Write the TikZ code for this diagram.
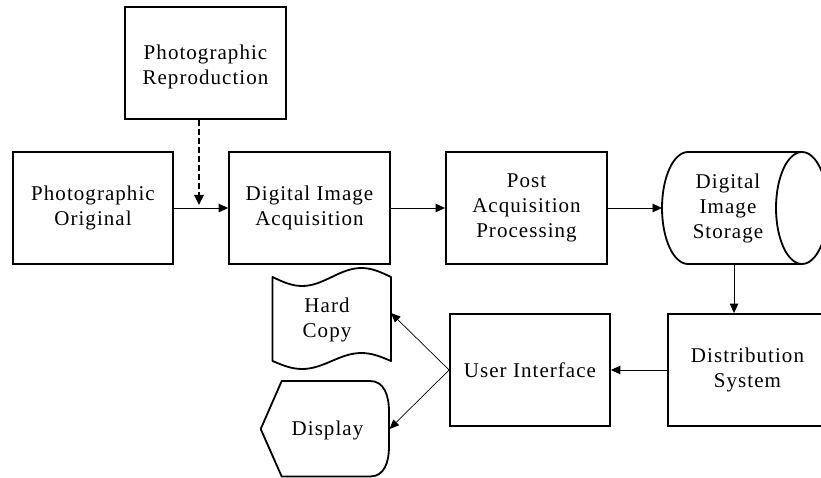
\documentclass[tikz,border=0pt]{standalone}
\usepackage{fontspec}
\setmainfont{Liberation Serif}[LetterSpace=5]
\usetikzlibrary{arrows.meta}
\begin{document}
\begin{tikzpicture}[x=1pt,y=-1pt,
  box/.style={draw, line width=1.8pt, minimum width=161pt, minimum height=112pt,
    align=center, inner sep=0pt, font=\fontsize{21}{25}\selectfont},
  lbl/.style={align=center, inner sep=0pt, font=\fontsize{21}{25}\selectfont},
  arr/.style={-{Triangle[length=9.5pt,width=8.5pt]}, line width=0.9pt},
  thinarr/.style={-{Triangle[length=9.5pt,width=8pt]}, line width=0.7pt},
  dasharr/.style={-{Triangle[length=10pt,width=9.5pt]}, line width=1.7pt, dash pattern=on 6pt off 3pt},
  outline/.style={line width=1.8pt, line join=round}]
\path[fill=white, use as bounding box] (0,0) rectangle (821,478);

% boxes
\node[box] (repro) at (205.5,63) {};
\node[lbl] (reprotxt) at (205.5,67) {Photographic\\Reproduction};
\node[box, minimum width=160pt] (orig) at (93,208) {Photographic\\Original};
\node[box] (acq) at (309.5,208) {Digital Image\\Acquisition};
\node[box] (post) at (526.5,208) {Post\\Acquisition\\Processing};
\node[box, minimum width=160pt] (ui) at (530,370) {User Interface};
\node[box, minimum width=159pt] (dist) at (747.5,370) {Distribution\\System};

% storage (cylinder)
\draw[outline] (688,152) -- (802,152) (802,264) -- (688,264)
  arc[start angle=270, end angle=90, x radius=26pt, y radius=56pt];
\draw[outline] (802,208) ellipse[x radius=26pt, y radius=56pt];
\node[lbl] (st) at (728,208) {Digital\\Image\\Storage};
\coordinate (stW) at (662,208);
\coordinate (stS) at (734,264);

% hard copy (punched tape)
\draw[outline] (272.5,277) sin (302.1,286) cos (331.75,277) sin (361.4,268) cos (391,277)
  -- (391,361) sin (361.4,353) cos (331.75,361) sin (302.1,369) cos (272.5,361) -- cycle;
\node[lbl] (hc) at (327,320) {Hard\\Copy};
\coordinate (hcE) at (391,313);

% display
\draw[outline] (281.7,381) -- (370,381) .. controls (384,381) and (389,395) .. (389,412)
  -- (389,446) .. controls (389,463) and (384,476.5) .. (370,476.5)
  -- (281.7,476.5) -- (260.7,429) -- cycle;
\node[lbl] (dp) at (327.5,430) {Display};
\coordinate (dpE) at (389.5,429);

% connectors
\coordinate (dashEnd) at (199,205);
\draw[dasharr] (repro.south -| dashEnd) -- (dashEnd);
\draw[arr] (orig) -- (acq);
\draw[arr] (acq) -- (post);
\draw[arr] (post) -- (stW);
\draw[arr] (stS) -- (stS |- dist.north);
\draw[arr] (dist) -- (ui);
\draw[thinarr] (ui.west) -- (hcE);
\draw[thinarr] (ui.west) -- (dpE);
\end{tikzpicture}
\end{document}
